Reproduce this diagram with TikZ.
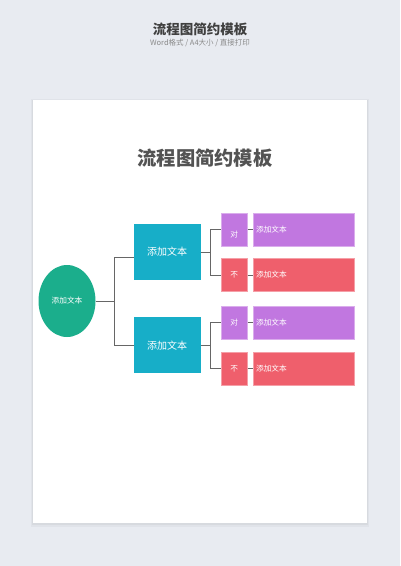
\documentclass[tikz,border=0pt]{standalone}
\usepackage{fontspec}
\setmainfont{Noto Sans CJK SC}
\newfontfamily\cjk{Noto Sans CJK SC}
\usetikzlibrary{shapes.geometric}
\definecolor{bgc}{HTML}{E8EBF1}
\definecolor{grn}{HTML}{1BAE8C}
\definecolor{blu}{HTML}{17AEC8}
\definecolor{pur}{HTML}{C177E0}
\definecolor{rd}{HTML}{EF5F6C}
\definecolor{ln}{HTML}{666666}
\definecolor{ttl}{HTML}{404040}
\definecolor{sub}{HTML}{8A8A8A}
\tikzset{
  box/.style={rectangle, inner sep=0pt, text=white, font=\cjk\fontsize{10}{12}\selectfont},
  bluebox/.style={box, fill=blu, minimum width=67pt, minimum height=56pt},
  tagbox/.style={box, minimum width=26pt, minimum height=33pt, font=\cjk\fontsize{7.7}{9}\selectfont, line width=0.6pt},
  wide/.style={box, minimum width=101.5pt, minimum height=33pt, line width=0.6pt},
  conn/.style={draw=ln, line width=0.9pt},
  smalltxt/.style={text=white, inner sep=0pt, anchor=west, font=\cjk\fontsize{7.7}{9}\selectfont}
}
\begin{document}
\begin{tikzpicture}[x=1pt,y=-1pt]
\useasboundingbox (0,0) rectangle (400,566);
\fill[bgc] (0,0) rectangle (400,566);
% page shadow
\fill[black, opacity=0.03] (30.5,99) rectangle (369,527);
\fill[black, opacity=0.04] (31.5,100) rectangle (368,525);
\node[draw=none, fill=white, minimum width=334.5pt, minimum height=423pt, inner sep=0pt] (page) at (199.75,311.7) {};
% header
\node[text=ttl, font=\cjk\bfseries\fontsize{13.5}{15}\selectfont, inner sep=0pt] (htitle) at (200,29) {流程图简约模板};
\node[text=sub, font=\cjk\fontsize{7.5}{9}\selectfont, inner sep=0pt] (hsub) at (200,42.7) {Word格式 / A4大小 / 直接打印};
% page title
\node[text=ttl!90!white, font=\cjk\bfseries\fontsize{19.3}{22}\selectfont, inner sep=0pt] (ptitle) at (205,158.3) {流程图简约模板};
% root
\node[ellipse, fill=grn, minimum width=57pt, minimum height=72pt, inner sep=0pt, text=white, font=\cjk\fontsize{7.7}{9}\selectfont] (e) at (67,301) {添加文本};
% blue boxes
\node[bluebox] (b1) at (167.2,252) {添加文本};
\node[bluebox] (b2) at (167.2,345.3) {添加文本};
% tag boxes
\node[tagbox, fill=pur, draw=pur!60!white] (s1) at (234.2,229.7) {};
\node[tagbox, fill=rd, draw=rd!60!white] (s2) at (234.2,275) {不};
\node[tagbox, fill=pur, draw=pur!60!white] (s3) at (234.2,322.3) {对};
\node[tagbox, fill=rd, draw=rd!60!white] (s4) at (234.2,368.8) {不};
\node[text=white, inner sep=0pt, font=\cjk\fontsize{7.7}{9}\selectfont] (s1t) at (234.2,234.3) {对};
% wide boxes
\node[wide, fill=pur, draw=pur!60!white] (g1) at (303.6,229.7) {};
\node[wide, fill=rd, draw=rd!60!white] (g2) at (303.6,275) {};
\node[wide, fill=pur, draw=pur!60!white] (g3) at (303.6,322.3) {};
\node[wide, fill=rd, draw=rd!60!white] (g4) at (303.6,368.8) {};
\node[smalltxt] (g1t) at ([xshift=3.3pt]g1.west) {添加文本};
\node[smalltxt] (g2t) at ([xshift=3.3pt]g2.west) {添加文本};
\node[smalltxt] (g3t) at ([xshift=3.3pt]g3.west) {添加文本};
\node[smalltxt] (g4t) at ([xshift=3.3pt]g4.west) {添加文本};
% connectors
\coordinate (j1) at (114.3,257.3);
\coordinate (j2) at (114.3,345.3);
\coordinate (k1) at (210.6,252);
\coordinate (k2) at (210.6,345.3);
\draw[conn] (e.east) -- (e.east -| j1);
\draw[conn] (j1) -- (j2);
\draw[conn] (j1) -- (j1 -| b1.west);
\draw[conn] (j2) -- (j2 -| b2.west);
\draw[conn] (b1.east) -- (k1);
\draw[conn] (b2.east) -- (k2);
\draw[conn] (s1.west) -| (k1) |- (s2.west);
\draw[conn] (s3.west) -| (k2) |- (s4.west);
\draw[conn] (s1.east) -- (g1.west);
\draw[conn] (s2.east) -- (g2.west);
\draw[conn] (s3.east) -- (g3.west);
\draw[conn] (s4.east) -- (g4.west);
\end{tikzpicture}
\end{document}
